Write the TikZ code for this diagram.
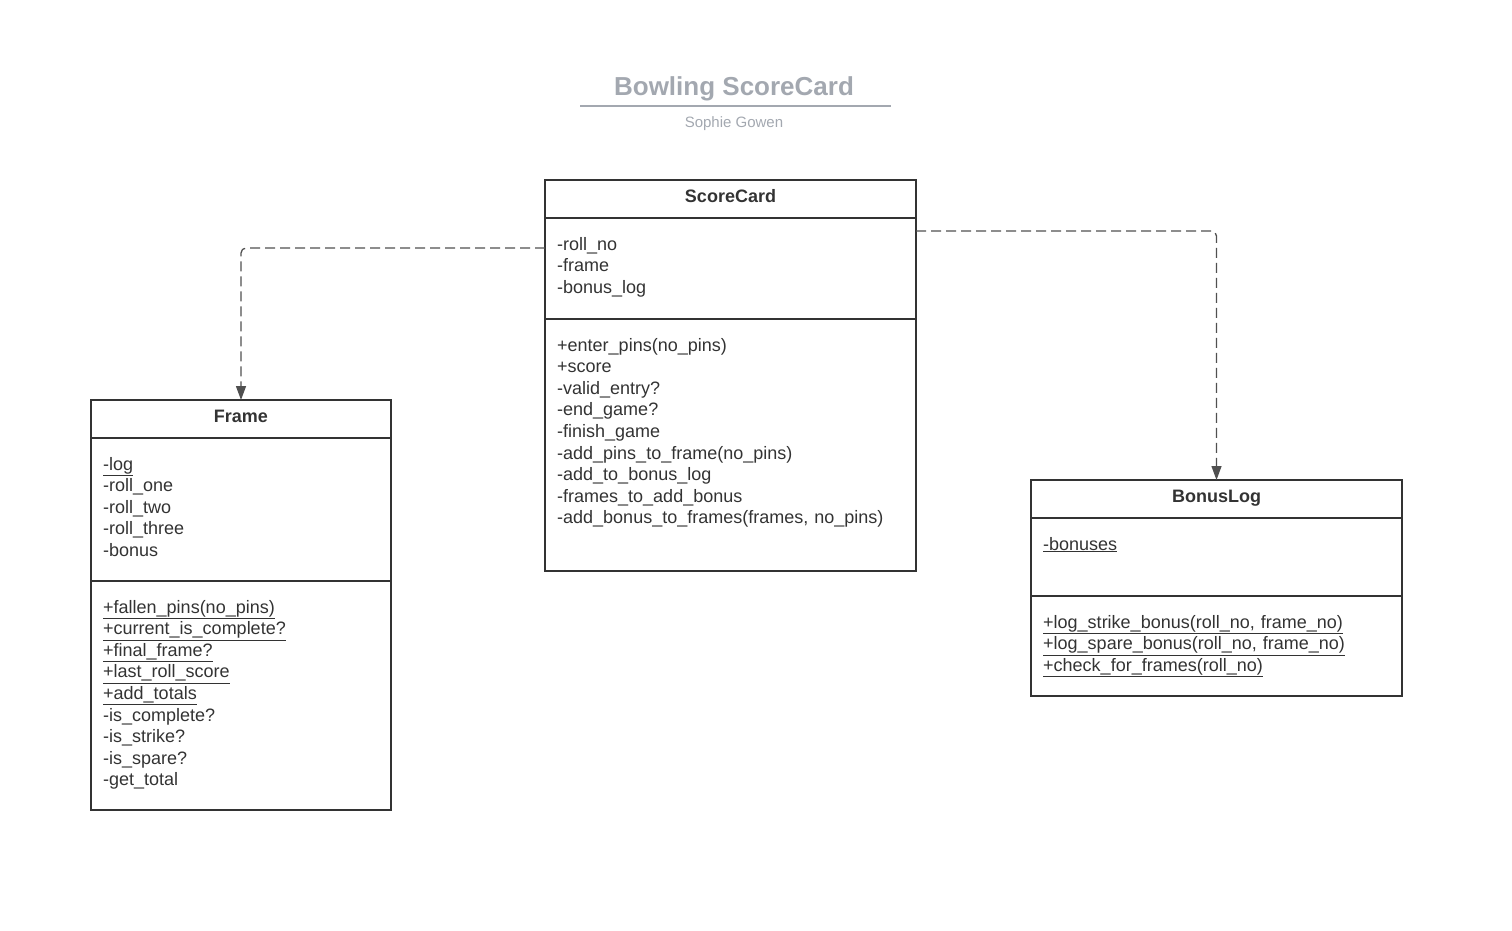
\documentclass[tikz,border=0pt]{standalone}
\usepackage{fontspec}
\setmainfont{Liberation Sans}
\usetikzlibrary{positioning,arrows.meta}
\definecolor{ink}{RGB}{51,51,51}
\definecolor{dashcol}{RGB}{80,80,80}
\definecolor{titlegray}{RGB}{163,168,176}
\newcommand{\umember}[1]{\underline{#1}}
\tikzset{
  classhead/.style={draw=ink, line width=1.6pt, inner sep=0pt, outer sep=0pt,
    minimum height=38pt, text height=12.9pt, text depth=5pt, text=ink,
    font=\bfseries\fontsize{18}{21.6}\selectfont},
  classpart/.style={draw=ink, line width=1.6pt, inner sep=0pt, outer sep=0pt},
  members/.style={anchor=base west, align=left, text width=350pt, inner sep=0pt,
    text=ink, font=\fontsize{18}{21.6}\selectfont},
  dep/.style={draw=dashcol, line width=1.3pt, dash pattern=on 10pt off 5pt,
    rounded corners=5pt, -{Triangle[width=10pt,length=14pt]}}
}
\begin{document}
\begin{tikzpicture}[x=1pt,y=-1pt]
\useasboundingbox (0,0) rectangle (1512,930);
% title
\node[text=titlegray, font=\bfseries\fontsize{26}{30}\selectfont, anchor=base] (title) at (734,95) {Bowling ScoreCard};
\coordinate (ulL) at (580,106);
\coordinate (ulR) at (891,106);
\draw[titlegray, line width=2pt] (ulL) -- (ulR);
\node[text=titlegray, font=\fontsize{15}{18}\selectfont, anchor=base] (author) at (734,127) {Sophie Gowen};

% ScoreCard
\node[classhead, minimum width=371pt] (sc) at (730.5,199) {ScoreCard};
\node[classpart, minimum width=371pt, minimum height=101pt, below=0pt of sc] (scattr) {};
\node[classpart, minimum width=371pt, minimum height=252pt, below=0pt of scattr] (scmeth) {};
\node[members] (scattrtxt) at ([xshift=12pt,yshift=-32pt]scattr.north west)
  {-roll\_no\\-frame\\-bonus\_log};
\node[members] (scmethtxt) at ([xshift=12pt,yshift=-32pt]scmeth.north west)
  {+enter\_pins(no\_pins)\\+score\\-valid\_entry?\\-end\_game?\\-finish\_game\\
   -add\_pins\_to\_frame(no\_pins)\\-add\_to\_bonus\_log\\-frames\_to\_add\_bonus\\
   -add\_bonus\_to\_frames(frames, no\_pins)};

% Frame
\node[classhead, minimum width=300pt] (fr) at (241,419) {Frame};
\node[classpart, minimum width=300pt, minimum height=143pt, below=0pt of fr] (frattr) {};
\node[classpart, minimum width=300pt, minimum height=229pt, below=0pt of frattr] (frmeth) {};
\node[members] (frattrtxt) at ([xshift=12pt,yshift=-32pt]frattr.north west)
  {\umember{-log}\\-roll\_one\\-roll\_two\\-roll\_three\\-bonus};
\node[members] (frmethtxt) at ([xshift=12pt,yshift=-32pt]frmeth.north west)
  {\umember{+fallen\_pins(no\_pins)}\\\umember{+current\_is\_complete?}\\
   \umember{+final\_frame?}\\\umember{+last\_roll\_score}\\\umember{+add\_totals}\\
   -is\_complete?\\-is\_strike?\\-is\_spare?\\-get\_total};

% BonusLog
\node[classhead, minimum width=371pt] (bl) at (1216.5,499) {BonusLog};
\node[classpart, minimum width=371pt, minimum height=78pt, below=0pt of bl] (blattr) {};
\node[classpart, minimum width=371pt, minimum height=100pt, below=0pt of blattr] (blmeth) {};
\node[members] (blattrtxt) at ([xshift=12pt,yshift=-32pt]blattr.north west)
  {\umember{-bonuses}};
\node[members] (blmethtxt) at ([xshift=12pt,yshift=-32pt]blmeth.north west)
  {\umember{+log\_strike\_bonus(roll\_no, frame\_no)}\\
   \umember{+log\_spare\_bonus(roll\_no, frame\_no)}\\
   \umember{+check\_for\_frames(roll\_no)}};

% dependencies
\draw[dep] ([yshift=-30pt]scattr.north west) -| (fr.north);
\draw[dep] ([yshift=-13pt]scattr.north east) -| (bl.north);
\end{tikzpicture}
\end{document}
